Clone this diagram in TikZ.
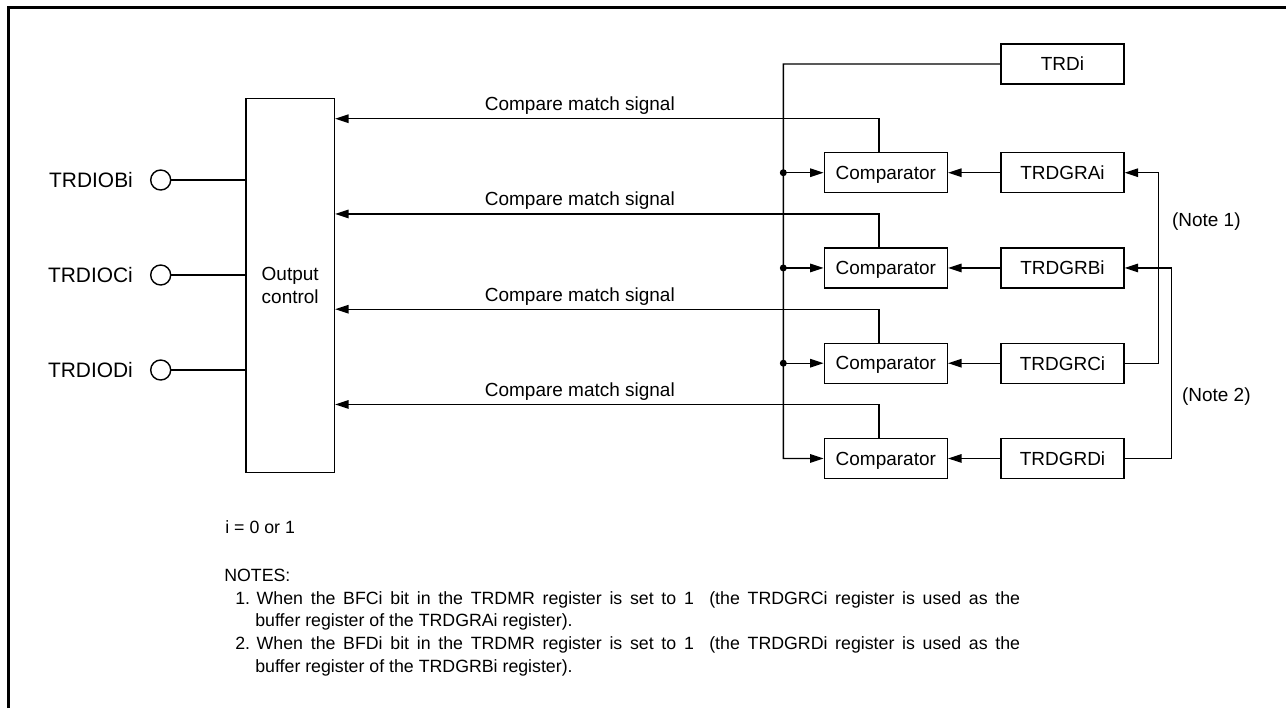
\documentclass[tikz,border=0pt]{standalone}
\usepackage{fontspec}
\setmainfont{Liberation Sans}
\usetikzlibrary{positioning,arrows.meta}

\begin{document}
\begin{tikzpicture}[on grid, node distance=1.905cm,
  blk/.style={draw, line width=0.8pt, minimum width=2.46cm, minimum height=0.8cm, inner sep=0pt, text depth=0pt, font=\fontsize{10.8}{13}\selectfont},
  pin/.style={draw, circle, line width=0.8pt, minimum size=0.4cm, inner sep=0pt},
  plbl/.style={anchor=east, inner sep=0pt, font=\fontsize{11.9}{14}\selectfont},
  mlbl/.style={anchor=base, inner sep=0pt, yshift=0.16cm, font=\fontsize{10.8}{13}\selectfont},
  ntxt/.style={inner sep=0pt, font=\fontsize{10.1}{12.9}\selectfont},
  wire/.style={line width=0.8pt},
  sig/.style={line width=0.8pt, -{Triangle[length=0.27cm,width=0.17cm]}}]

   \useasboundingbox (0,0) rectangle (25.72,-14.16);
   \draw[line width=1.9pt] (0.166,-14.16) -- (0.166,-0.146) -- (25.72,-0.146);

   \node[draw, line width=0.8pt, minimum width=1.766cm, minimum height=7.48cm, align=center, font=\fontsize{10.8}{13}\selectfont] (ctrl) at (5.804,-5.706) {Output\\control};

   \node[pin] (pB) at (3.214,-3.6) {};
   \node[pin] (pC) [below=1.9cm of pB] {};
   \node[pin] (pD) [below=1.9cm of pC] {};
   \node[plbl] (lB) at ([xshift=-0.55cm]pB.center) {TRDIOBi};
   \node[plbl] (lC) at ([xshift=-0.55cm]pC.center) {TRDIOCi};
   \node[plbl] (lD) at ([xshift=-0.55cm]pD.center) {TRDIODi};

   \draw[wire] (pB) -- (pB -| ctrl.west);
   \draw[wire] (pC) -- (pC -| ctrl.west);
   \draw[wire] (pD) -- (pD -| ctrl.west);

   \node[blk] (cmpA) at (17.716,-3.454) {Comparator};
   \node[blk] (cmpB) [below=of cmpA] {Comparator};
   \node[blk] (cmpC) [below=of cmpB] {Comparator};
   \node[blk] (cmpD) [below=of cmpC] {Comparator};

   \node[blk] (grA) [right=3.534cm of cmpA] {TRDGRAi};
   \node[blk] (grB) [right=3.534cm of cmpB] {TRDGRBi};
   \node[blk] (grC) [right=3.534cm of cmpC] {TRDGRCi};
   \node[blk] (grD) [right=3.534cm of cmpD] {TRDGRDi};
   \node[blk] (trd) [above=2.174cm of grA] {TRDi};

   \coordinate (bt) at (15.666,-1.28);
   \draw[sig] (trd.west) -- (bt) |- (cmpD.west);
   \draw[sig] (bt |- cmpA) -- (cmpA.west);
   \draw[sig] (bt |- cmpB) -- (cmpB.west);
   \draw[sig] (bt |- cmpC) -- (cmpC.west);
   \fill (bt |- cmpA) circle (0.07);
   \fill (bt |- cmpB) circle (0.07);
   \fill (bt |- cmpC) circle (0.07);

   \path[sig] (grA) edge (cmpA);
   \path[sig] (grB) edge (cmpB);
   \path[sig] (grC) edge (cmpC);
   \path[sig] (grD) edge (cmpD);

   \draw[sig] ([xshift=-0.136cm]cmpA.north) |- ([yshift=1.08cm]cmpA.center -| ctrl.east) node[mlbl, pos=0.775] {Compare match signal};
   \draw[sig] ([xshift=-0.136cm]cmpB.north) |- ([yshift=1.08cm]cmpB.center -| ctrl.east) node[mlbl, pos=0.775] {Compare match signal};
   \draw[sig] ([xshift=-0.136cm]cmpC.north) |- ([yshift=1.08cm]cmpC.center -| ctrl.east) node[mlbl, pos=0.775] {Compare match signal};
   \draw[sig] ([xshift=-0.136cm]cmpD.north) |- ([yshift=1.08cm]cmpD.center -| ctrl.east) node[mlbl, pos=0.775] {Compare match signal};

   \draw[sig] (grC.east) -- ++(0.68,0) |- (grA.east);
   \draw[sig] (grD.east) -- ++(0.94,0) |- (grB.east);
   \node[ntxt, anchor=west, font=\fontsize{10.8}{13}\selectfont] (n1) at (23.434,-4.434) {(Note 1)};
   \node[ntxt, anchor=west, font=\fontsize{10.8}{13}\selectfont] (n2) at (23.634,-7.934) {(Note 2)};

   \node[ntxt, anchor=base west] (ival) at (4.5,-10.666) {i = 0 or 1};
   \node[ntxt, anchor=base west, align=left] (notes) at (4.48,-13.44) {NOTES:\\
     \hspace*{0.22cm}1. {\spaceskip=4.4pt When the BFCi bit in the TRDMR register is set to 1\ \ (the TRDGRCi register is used as the}\\
     \hspace*{0.62cm}buffer register of the TRDGRAi register).\\
     \hspace*{0.22cm}2. {\spaceskip=4.4pt When the BFDi bit in the TRDMR register is set to 1\ \ (the TRDGRDi register is used as the}\\
     \hspace*{0.62cm}buffer register of the TRDGRBi register).};
\end{tikzpicture}
\end{document}
